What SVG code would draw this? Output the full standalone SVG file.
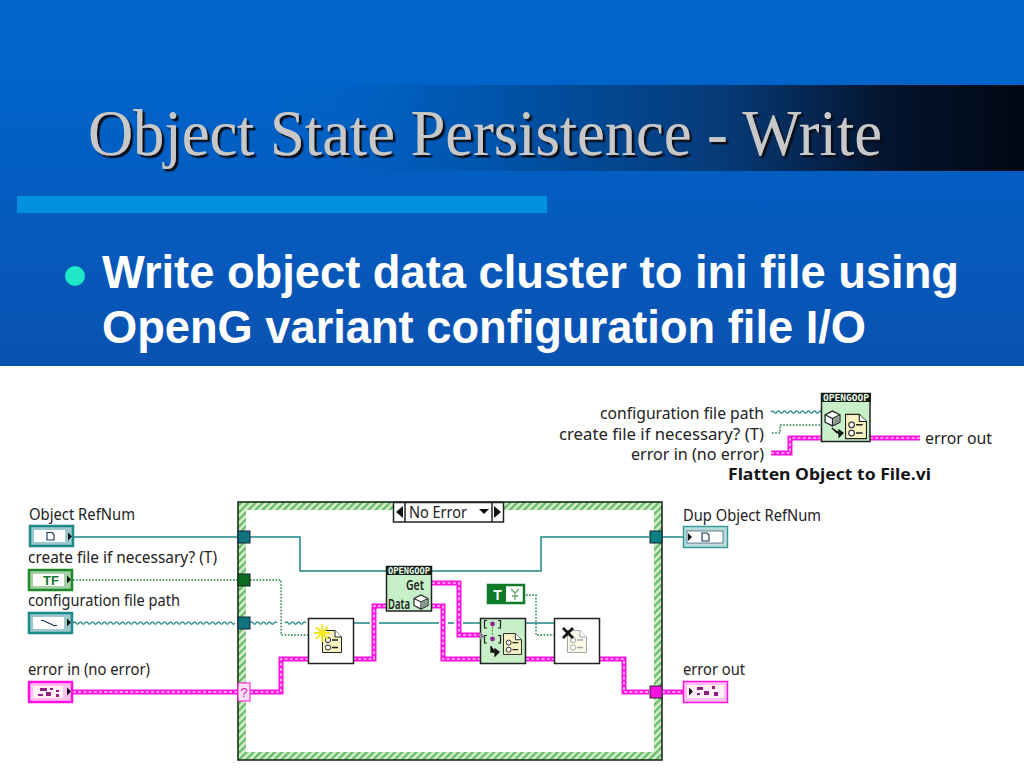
<svg xmlns="http://www.w3.org/2000/svg" xmlns:xlink="http://www.w3.org/1999/xlink" width="1024" height="768" viewBox="0 0 1024 768">
<style>
.lb{font-family:"Noto Sans","Liberation Sans",sans-serif;font-size:15.5px;fill:#222}
.tl{fill:none;stroke:#1f8585;stroke-width:1.5}
.wv{fill:none;stroke:#13807f;stroke-width:1.3}
.gd{fill:none;stroke:#1d7a3a;stroke-width:1.4;stroke-dasharray:1.6 1.6}
.pk{fill:none;stroke:#ff10e0;stroke-width:5}
.pc{fill:none;stroke:#ffc8f4;stroke-width:1.6;stroke-dasharray:3 2.2}
.nb{stroke:#222;stroke-width:1.5}
.hd{font-family:"DejaVu Sans Mono","Liberation Mono",monospace;font-weight:bold;font-size:8px;fill:#e8f8e8}
.ns{font-family:"Noto Sans","Liberation Sans",sans-serif;font-size:14px;font-weight:600;fill:#222}
</style>
<defs>
<linearGradient id="bg" x1="0" y1="0" x2="0" y2="1"><stop offset="0" stop-color="#0066cc"/><stop offset="0.2" stop-color="#0064ca"/><stop offset="1" stop-color="#0a52b2"/></linearGradient>
<linearGradient id="band" x1="0" y1="0" x2="1" y2="0">
<stop offset="0.2" stop-color="#0060c0" stop-opacity="0"/><stop offset="0.45" stop-color="#0052a6"/><stop offset="0.68" stop-color="#073a78"/><stop offset="0.85" stop-color="#04152f"/><stop offset="1" stop-color="#010814"/></linearGradient>
<filter id="sh" x="-5%" y="-20%" width="110%" height="140%"><feDropShadow dx="2.500" dy="2.500" stdDeviation="0.7" flood-color="#080818"/></filter>
<pattern id="hatch" width="5" height="5" patternUnits="userSpaceOnUse" patternTransform="rotate(45)"><rect width="5" height="5" fill="#d4f0cc"/><rect width="2.400" height="5" fill="#6cbb6c"/></pattern>
<symbol id="file" viewBox="0 0 20 23" overflow="visible">
<path d="M.5 .5H13L19.500 7V22.500H.5Z" fill="#f6f2c4" stroke="#222" stroke-width="1"/><path d="M13 .5V7H19.500" fill="#fff" stroke="#222" stroke-width="1"/>
<circle cx="6" cy="10" r="2.600" fill="#fff" stroke="#222"/><circle cx="6" cy="17.500" r="2.600" fill="#fff" stroke="#222"/>
<path d="M10 10H16M10 17.500H16" stroke="#222" stroke-width="1.400"/></symbol>
<symbol id="cube" viewBox="0 0 16 16" overflow="visible">
<path d="M1 4.500L8 1L15 4.500V11.500L8 15L1 11.500Z" fill="#fff" stroke="#222" stroke-width="1.200"/><path d="M1 4.500L8 8L15 4.500M8 8V15" fill="none" stroke="#222" stroke-width="1.100"/><path d="M8.600 8.600L14.400 5.600V11.100L8.600 14.200Z" fill="#8a9a8a"/></symbol>
<symbol id="tri" viewBox="0 0 5 10" overflow="visible"><path d="M0 0L5 5L0 10Z" fill="#111"/></symbol>
</defs>

<rect width="1024" height="768" fill="url(#bg)"/>
<rect y="0" width="1024" height="366" fill="url(#bg)"/>
<rect x="85" y="85" width="939" height="86" fill="url(#band)"/>
<rect x="17" y="196" width="530" height="17" fill="#0090dd"/>
<text x="88" y="155" font-family="Liberation Serif,serif" font-size="65" fill="#c8c8c8" textLength="794" lengthAdjust="spacingAndGlyphs" filter="url(#sh)">Object State Persistence - Write</text>
<ellipse cx="75" cy="276" rx="10" ry="10" fill="#1fe8c8"/>
<g font-family="Liberation Sans,sans-serif" font-weight="bold" font-size="46" fill="#fff">
<text x="102" y="288" textLength="857" lengthAdjust="spacingAndGlyphs">Write object data cluster to ini file using</text>
<text x="102" y="343" textLength="764" lengthAdjust="spacingAndGlyphs">OpenG variant configuration file I/O</text>
</g>
<rect y="366" width="1024" height="402" fill="#fff"/>

<g id="case-frame">
<rect x="238" y="502" width="424" height="258" fill="url(#hatch)" stroke="#1c2c1c" stroke-width="1.600"/>
<rect x="246" y="510" width="408" height="242" fill="#fff"/>
</g>

<g id="connectors">
<path class="tl" d="M74 537H238M250 537H300V571H386M432 571H541V537H649M662 537H683"/>
<path class="gd" d="M73 580H238M250 580H281V635H308"/>
<path class="gd" d="M526 595H536V635H554"/>
<path class="wv" d="M73 623q1.500 -2.400 3 0t3 0t3 0t3 0t3 0t3 0t3 0t3 0t3 0t3 0t3 0t3 0t3 0t3 0t3 0t3 0t3 0t3 0t3 0t3 0t3 0t3 0t3 0t3 0t3 0t3 0t3 0t3 0t3 0t3 0t3 0t3 0t3 0t3 0t3 0t3 0t3 0t3 0t3 0t3 0t3 0t3 0t3 0t3 0t3 0t3 0t3 0t3 0t3 0t3 0t3 0t3 0t3 0t3 0M250 623q1.500 -2.400 3 0t3 0t3 0t3 0t3 0t3 0t3 0t3 0t3 0M285 623q1.500 -2.400 3 0t3 0t3 0t3 0t3 0t3 0t3 0"/>
<path class="tl" d="M353 623H370M379 623H439M448 623H454M463 623H480M526 623H554"/>
<path class="pk" d="M73 692H238M250 692H281V659H308M353 659H374V606H386M432 583H459V635H480M432 606H443V659H480M526 659H554M600 659H624V692H649M662 692H683"/>
<path class="pc" d="M73 692H238M250 692H281V659H308M353 659H374V606H386M432 583H459V635H480M432 606H443V659H480M526 659H554M600 659H624V692H649M662 692H683"/>
<path class="wv" d="M771 412q1.500 -2.400 3 0t3 0t3 0t3 0t3 0t3 0t3 0t3 0t3 0t3 0t3 0t3 0t3 0t3 0t3 0t3 0t2 0"/>
<path class="gd" d="M772 433H780V425H821"/>
<path class="pk" d="M771 453H790V438H821M870 438H920"/>
<path class="pc" d="M771 453H790V438H821M870 438H920"/>
</g>

<g id="selector">
<rect x="393.500" y="502.500" width="110" height="19.500" fill="#fff" stroke="#222" stroke-width="1.500"/>
<path d="M405 502V522M492 502V522" stroke="#222" stroke-width="1.500"/>
<path d="M396 512L403 506V518Z" fill="#111"/><path d="M501 512L494 506V518Z" fill="#111"/>
<path d="M479 509H489L484 514Z" fill="#111"/>
<text class="lb" x="409" y="518" textLength="58" lengthAdjust="spacingAndGlyphs">No Error</text>
</g>

<g id="tunnels">
<rect x="238" y="531" width="12" height="12" fill="#0f7480" stroke="#123" stroke-width="1"/>
<rect x="238" y="574" width="12" height="12" fill="#0b6b1e" stroke="#122" stroke-width="1"/>
<rect x="238" y="617" width="12" height="12" fill="#0f7480" stroke="#123" stroke-width="1"/>
<rect x="238" y="683" width="12" height="18" fill="#ffe0f8" stroke="#ff10e0" stroke-width="1"/>
<text x="244" y="697" text-anchor="middle" font-family="Liberation Sans,sans-serif" font-size="13" fill="#d010b0">?</text>
<rect x="650" y="531" width="12" height="12" fill="#0b8080" stroke="#123" stroke-width="1"/>
<rect x="650" y="686" width="12" height="12" fill="#ff10e0" stroke="#222" stroke-width="1"/>
</g>

<g id="ctl-refnum">
<text class="lb" x="29" y="520" textLength="106" lengthAdjust="spacingAndGlyphs">Object RefNum</text>
<rect x="30" y="526" width="43" height="20" fill="#9cc8cc" stroke="#1d8a8a" stroke-width="2.500"/><rect x="34" y="530" width="31" height="12" fill="#fff"/>
<path d="M47 532.500H52L54 534.500V540H47Z" fill="none" stroke="#135" stroke-width="1.100"/><use href="#tri" x="68" y="532" width="4" height="9"/>
</g>
<g id="ctl-create">
<text class="lb" x="28" y="563" textLength="189" lengthAdjust="spacingAndGlyphs">create file if necessary? (T)</text>
<rect x="29" y="570" width="43" height="20" fill="#a4d0a4" stroke="#1a8a2a" stroke-width="2.500"/><rect x="33" y="574" width="31" height="12" fill="#fff"/>
<text x="51" y="585" text-anchor="middle" font-family="Liberation Sans,sans-serif" font-weight="bold" font-size="13" fill="#127a2a">TF</text><use href="#tri" x="67" y="575" width="4" height="9"/>
</g>
<g id="ctl-path">
<text class="lb" x="28" y="606" textLength="152" lengthAdjust="spacingAndGlyphs">configuration file path</text>
<rect x="29" y="613" width="43" height="20" fill="#9cc8cc" stroke="#1d8a8a" stroke-width="2.500"/><rect x="33" y="617" width="31" height="12" fill="#fff"/>
<path d="M41 620.500H44M44 621L53 625M53 625.500H57" stroke="#135" stroke-width="1.200" fill="none"/><use href="#tri" x="67" y="618" width="4" height="9"/>
</g>
<g id="ctl-error">
<text class="lb" x="28" y="675" textLength="122" lengthAdjust="spacingAndGlyphs">error in (no error)</text>
<rect x="29" y="682" width="43" height="20" fill="#ffc0f0" stroke="#ff10e0" stroke-width="2.500"/><rect x="33" y="686" width="30" height="12" fill="#fff0fb"/>
<path d="M40 688h7v3h-7zM38 694h5v2h-5zM46 692h5v4h-5zM50 688h3v2h-3zM56 690h3v2h-3zM56 694h3v3h-3z" fill="#902080"/><use href="#tri" x="67" y="687" width="4" height="9"/>
</g>
<g id="ind-refnum">
<text class="lb" x="683" y="521" textLength="138" lengthAdjust="spacingAndGlyphs">Dup Object RefNum</text>
<rect x="683.500" y="526.500" width="44" height="21" fill="#b8dcdc" stroke="#3a9a9a" stroke-width="1.500"/><rect x="687" y="531" width="36" height="12" fill="#fff" stroke="#135" stroke-width=".6"/>
<path d="M702 533H707L709 535V541H702Z" fill="none" stroke="#135" stroke-width="1.100"/><use href="#tri" x="688" y="532.500" width="4" height="9"/>
</g>
<g id="ind-error">
<text class="lb" x="683" y="675" textLength="62" lengthAdjust="spacingAndGlyphs">error out</text>
<rect x="683.500" y="681.500" width="44" height="21" fill="#ffc0f0" stroke="#ff10e0" stroke-width="1.500"/><rect x="687" y="685" width="37" height="13" fill="#fff0fb"/>
<path d="M697 687h6v3h-6zM697 693h3v2h-3zM704 691h5v4h-5zM712 686h3v3h-3zM714 692h4v4h-4z" fill="#902080"/><use href="#tri" x="689" y="687" width="4" height="9"/>
</g>

<g id="node-open">
<rect class="nb" x="308.500" y="618.500" width="45" height="45" fill="#fff"/>
<use href="#file" x="322" y="630" width="20" height="23"/>
<path d="M322 624V642M314 633H330M316 627L328 639M328 627L316 639" stroke="#f4e81a" stroke-width="1.800"/>
</g>

<g id="node-getdata">
<rect class="nb" x="386.500" y="566.500" width="45" height="44.500" fill="#c8f0c8"/>
<rect x="386" y="566" width="46" height="9" fill="#162016"/>
<text class="hd" x="409" y="573.500" text-anchor="middle" textLength="42" lengthAdjust="spacingAndGlyphs">OPENGOOP</text>
<text class="ns" x="406" y="590" textLength="18" lengthAdjust="spacingAndGlyphs">Get</text>
<text class="ns" x="388" y="609" textLength="22" lengthAdjust="spacingAndGlyphs">Data</text>
<use href="#cube" x="413" y="594" width="16" height="16"/>
</g>

<g id="node-write">
<rect class="nb" x="480.500" y="618.500" width="45" height="45" fill="#c8f0c8"/>
<path d="M487 620.500H484.500V628H487M498 620.500H500.500V628H498M487 635.500H484.500V643H487M498 635.500H500.500V643H498" fill="none" stroke="#222" stroke-width="1.200"/>
<circle cx="492.500" cy="624" r="2.400" fill="#8a2a90"/><circle cx="492.500" cy="639" r="2.400" fill="#8a2a90"/>
<path d="M492.500 627V636" stroke="#3a7a3a" stroke-width="1" stroke-dasharray="1.500 1.500"/>
<path d="M491 646V652H496M495 649L499 652L495 656Z" fill="#111" stroke="#111" stroke-width="1.300"/>
<use href="#file" x="503" y="633" width="19" height="22"/>
<path d="M480 632L485 636L480 640Z" fill="#889"/>
</g>

<g id="const-true">
<rect x="488" y="585" width="36" height="18" fill="#fff" stroke="#0f7a2a" stroke-width="2.500"/>
<rect x="489" y="586" width="17" height="16" fill="#0f7a2a"/>
<text x="497.500" y="600" text-anchor="middle" font-family="Liberation Sans,sans-serif" font-weight="bold" font-size="14" fill="#fff">T</text>
<path d="M511 589L515 593L519 589M515 593V600M512 596H518" fill="none" stroke="#6aa86a" stroke-width="1.300"/>
</g>

<g id="node-close">
<rect class="nb" x="554.500" y="618.500" width="45" height="45" fill="#fff"/>
<use href="#file" x="567" y="630" width="20" height="23" opacity=".4"/>
<path d="M563 628L573 638M573 628L563 638" stroke="#111" stroke-width="2.800"/>
</g>

<g id="node-flatten">
<text class="lb" x="600" y="419" textLength="164" lengthAdjust="spacingAndGlyphs">configuration file path</text>
<text class="lb" x="559" y="440" textLength="205" lengthAdjust="spacingAndGlyphs">create file if necessary? (T)</text>
<text class="lb" x="631" y="460" textLength="133" lengthAdjust="spacingAndGlyphs">error in (no error)</text>
<text class="lb" x="925" y="444" textLength="67" lengthAdjust="spacingAndGlyphs">error out</text>
<rect class="nb" x="821.500" y="393.500" width="48.500" height="48" fill="#c8f0c8"/>
<rect x="821" y="393" width="50" height="9" fill="#162016"/>
<text class="hd" x="846" y="400.500" text-anchor="middle" textLength="46" lengthAdjust="spacingAndGlyphs">OPENGOOP</text>
<use href="#cube" x="824" y="410" width="17" height="17"/>
<path d="M832 428L837 433H841M839 430L843 433L839 437Z" fill="#111" stroke="#111" stroke-width="1.200"/>
<use href="#file" x="845" y="413" width="22" height="27"/>
<text x="728" y="480" font-family="Noto Sans,DejaVu Sans,sans-serif" font-weight="bold" font-size="16.500" fill="#151515" textLength="203" lengthAdjust="spacingAndGlyphs">Flatten Object to File.vi</text>
</g>
</svg>
